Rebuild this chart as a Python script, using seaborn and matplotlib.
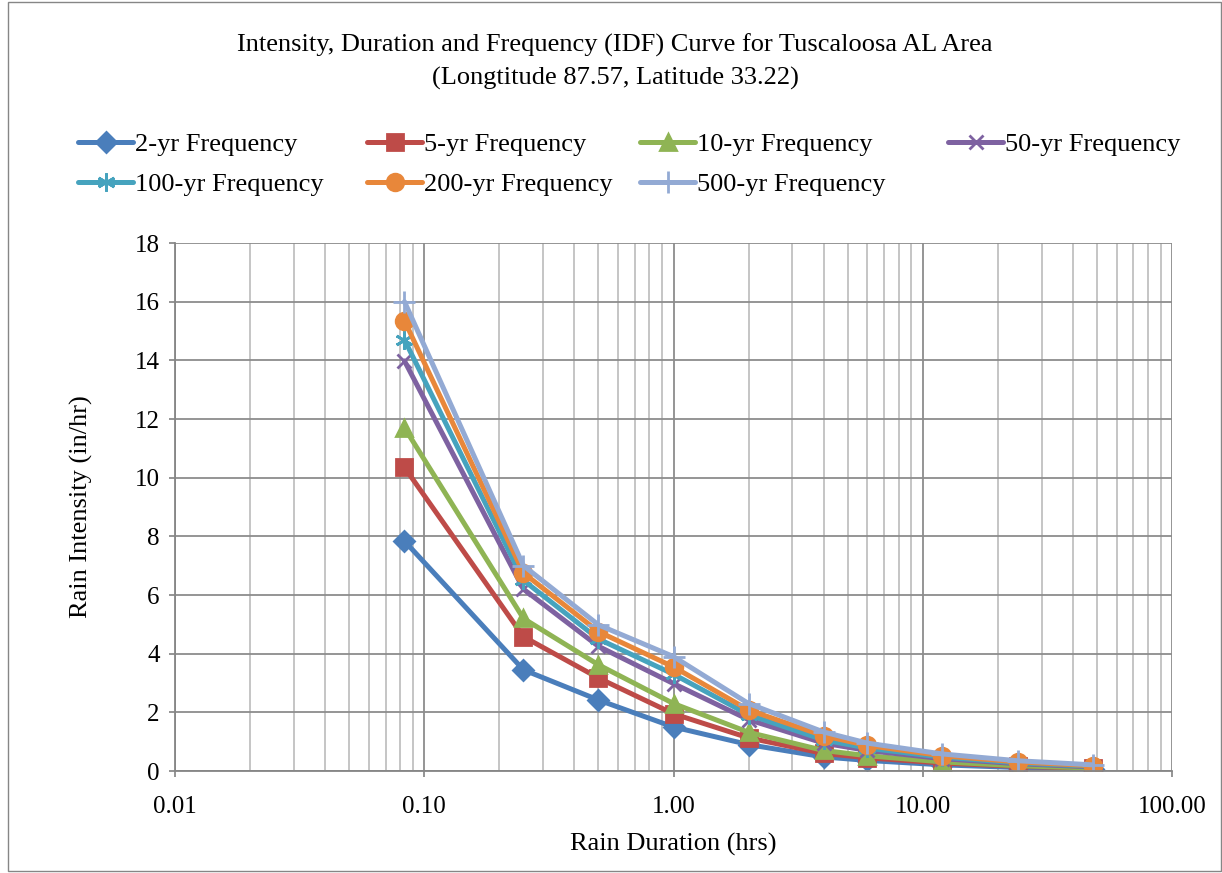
import numpy as np
import pandas as pd
import matplotlib
matplotlib.use("Agg")
import matplotlib.pyplot as plt
import seaborn as sns
from matplotlib.ticker import FixedLocator, LogLocator, NullFormatter, FuncFormatter
from matplotlib.patches import Rectangle

durations = [0.0833, 0.25, 0.5, 1.0, 2.0, 4.0, 6.0, 12.0, 24.0, 48.0]
series_names = ["2-yr Frequency", "5-yr Frequency", "10-yr Frequency", "50-yr Frequency",
                "100-yr Frequency", "200-yr Frequency", "500-yr Frequency"]
yr2 = [7.84, 3.45, 2.42, 1.50, 0.90, 0.48, 0.36, 0.21, 0.12, 0.07]
yr5 = [10.35, 4.58, 3.17, 1.95, 1.13, 0.60, 0.45, 0.27, 0.16, 0.09]
yr10 = [11.70, 5.20, 3.62, 2.30, 1.32, 0.70, 0.52, 0.31, 0.18, 0.10]
yr50 = [13.98, 6.20, 4.25, 2.98, 1.75, 0.95, 0.70, 0.42, 0.25, 0.14]
yr100 = [14.70, 6.50, 4.50, 3.30, 1.92, 1.06, 0.78, 0.47, 0.28, 0.16]
yr200 = [15.35, 6.75, 4.75, 3.55, 2.08, 1.20, 0.87, 0.52, 0.31, 0.18]
yr500 = [16.00, 7.00, 4.98, 3.90, 2.30, 1.33, 0.95, 0.58, 0.35, 0.21]
values = [yr2, yr5, yr10, yr50, yr100, yr200, yr500]

colors = ["#4A7EBB", "#BE4B48", "#8FB454", "#7E62A1", "#46A3BE", "#E8873A", "#93AAD4"]
markers = ["D", "s", "^", "x", (6, 2, 0), "o", "+"]
msizes = [10, 11, 12, 10, 13, 12, 16]

sns.set_theme(style="white")
plt.rcParams['font.family'] = ['Liberation Serif', 'DejaVu Serif']
plt.rcParams['text.color'] = 'black'
plt.rcParams['axes.labelcolor'] = 'black'

fig = plt.figure(figsize=(12.22, 8.73), dpi=100)
ax = fig.add_axes([175 / 1222, 1 - 771 / 873, (1172 - 175) / 1222, (771 - 243) / 873])

handles = []
for name, vals, c, m, ms in zip(series_names, values, colors, markers, msizes):
    df = pd.DataFrame({"Duration": durations, "Intensity": vals})
    sns.lineplot(data=df, x="Duration", y="Intensity", ax=ax, color=c, linewidth=3.6,
                 marker=m, markersize=ms, markeredgecolor=c, markerfacecolor=c,
                 markeredgewidth=2.0, label=name, legend=False)
    handles.append(ax.lines[-1])

ax.set_xscale("log")
ax.set_xlim(0.01, 100)
ax.set_ylim(0, 18)
ax.yaxis.set_major_locator(FixedLocator(np.arange(0, 19, 2)))
ax.xaxis.set_major_locator(FixedLocator([0.01, 0.1, 1, 10, 100]))
ax.xaxis.set_minor_locator(LogLocator(base=10, subs=np.arange(2, 10), numticks=20))
ax.xaxis.set_minor_formatter(NullFormatter())
ax.xaxis.set_major_formatter(FuncFormatter(lambda v, p: f"{v:.2f}"))

ax.grid(True, which="major", axis="both", color="#8C8C8C", linewidth=1.3)
ax.grid(True, which="minor", axis="x", color="#C0C0C0", linewidth=1.3)
ax.set_axisbelow(True)
for s in ["top", "right"]:
    ax.spines[s].set_visible(False)
for s in ["left", "bottom"]:
    ax.spines[s].set_color("#868686")
    ax.spines[s].set_linewidth(1.3)
ax.tick_params(axis="both", which="major", labelsize=18, labelcolor="black", length=4,
               color="#868686", direction="out", left=True, bottom=True)
ax.tick_params(axis="x", which="major", pad=14)
ax.tick_params(axis="y", which="major", pad=7)
ax.tick_params(axis="x", which="minor", length=0)

ax.set_xlabel("Rain Duration (hrs)", fontsize=19, labelpad=11, color="black")
ax.set_ylabel("Rain Intensity (in/hr)", fontsize=19, labelpad=30, color="black")

fig.text(615 / 1222, 1 - 45 / 873, "Intensity, Duration and Frequency (IDF) Curve for Tuscaloosa AL Area",
         ha="center", va="center", fontsize=19, color="black")
fig.text(615 / 1222, 1 - 78 / 873, "(Longtitude 87.57, Latitude 33.22)",
         ha="center", va="center", fontsize=19, color="black")

# legend laid out as four columns at the reference's column positions
columns = [[0, 4], [1, 5], [2, 6], [3]]
col_x = [78, 367, 640, 948]
for idxs, cx in zip(columns, col_x):
    lg = fig.legend([handles[i] for i in idxs], [series_names[i] for i in idxs],
                    loc="upper left", bbox_to_anchor=(cx / 1222, 1 - 133 / 873), ncol=1,
                    frameon=False, fontsize=19, handlelength=2.1, handletextpad=0.05,
                    labelspacing=0.62, borderaxespad=0, borderpad=0)
    for t in lg.get_texts():
        t.set_color("black")

fig.add_artist(Rectangle((8 / 1222, 0.002), 1 - 9 / 1222, 0.996, transform=fig.transFigure,
                         fill=False, edgecolor="#868686", linewidth=1.0))

fig.savefig("out.png", dpi=100)
